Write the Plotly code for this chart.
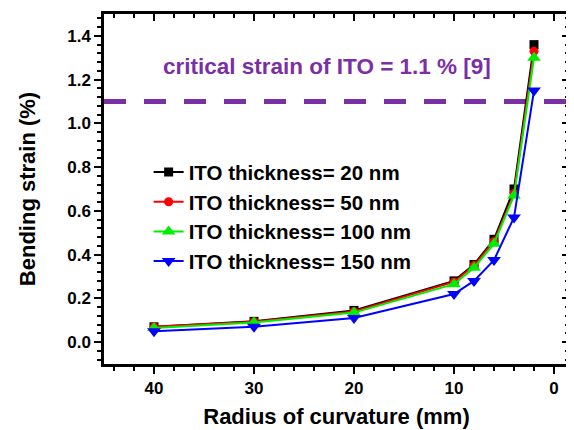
import plotly.graph_objects as go

radius_mm = [40, 30, 20, 10, 8, 6, 4, 2]
strain_20nm = [0.07, 0.095, 0.145, 0.28, 0.355, 0.47, 0.70, 1.36]
strain_50nm = [0.07, 0.093, 0.14, 0.275, 0.35, 0.46, 0.68, 1.33]
strain_100nm = [0.065, 0.09, 0.135, 0.265, 0.34, 0.45, 0.67, 1.30]
strain_150nm = [0.05, 0.07, 0.11, 0.22, 0.28, 0.375, 0.57, 1.15]
series_names = ["ITO thickness= 20 nm", "ITO thickness= 50 nm",
                "ITO thickness= 100 nm", "ITO thickness= 150 nm"]
critical_strain = 1.1
critical_label = "critical strain of ITO = 1.1 % [9]"

FONT = "Liberation Sans, Arial, sans-serif"
PURPLE = "#7B2FA6"

styles = [
    dict(color="#000000", symbol="square", size=9),
    dict(color="#FF0000", symbol="circle", size=9),
    dict(color="#00EE00", symbol="triangle-up", size=12),
    dict(color="#0000FF", symbol="triangle-down", size=12),
]
values = [strain_20nm, strain_50nm, strain_100nm, strain_150nm]

fig = go.Figure()
for name, vals, st in zip(series_names, values, styles):
    fig.add_trace(go.Scatter(
        x=radius_mm, y=vals, mode="lines+markers", name=name,
        line=dict(color=st["color"], width=2),
        marker=dict(color=st["color"], symbol=st["symbol"], size=st["size"]),
    ))

# invisible traces so the top / right frame axes (inward ticks) are drawn
fig.add_trace(go.Scatter(x=radius_mm[:1], y=strain_20nm[:1], xaxis="x2", yaxis="y",
                         mode="markers", marker=dict(opacity=0), showlegend=False,
                         hoverinfo="skip"))
fig.add_trace(go.Scatter(x=radius_mm[:1], y=strain_20nm[:1], xaxis="x", yaxis="y2",
                         mode="markers", marker=dict(opacity=0), showlegend=False,
                         hoverinfo="skip"))

fig.add_shape(type="line", xref="paper", yref="y", x0=0, x1=1,
              y0=critical_strain, y1=critical_strain,
              line=dict(color=PURPLE, width=5, dash="22px,18px"), layer="below")

fig.add_annotation(text=critical_label, xref="paper", yref="y",
                   x=0.479, y=1.26, showarrow=False,
                   font=dict(family=FONT, size=22.5, color=PURPLE, weight="bold"))

xr = [45, -1.5]
yr = [-0.1, 1.5]
axis_common = dict(showline=True, linecolor="black", linewidth=2.5,
                   showgrid=False, zeroline=False, ticklen=7, tickwidth=2,
                   tickcolor="black")

fig.update_layout(
    width=566, height=422,
    margin=dict(l=96, r=2, t=6, b=66),
    paper_bgcolor="white", plot_bgcolor="white",
    font=dict(family=FONT, color="black"),
    showlegend=True,
    legend=dict(x=0.096, y=0.605, xanchor="left", yanchor="top",
                bgcolor="rgba(0,0,0,0)", tracegroupgap=0,
                font=dict(family=FONT, size=20.5, color="black", weight="bold")),
    xaxis=dict(range=xr, dtick=10, tick0=0, ticks="outside", mirror=True,
               tickfont=dict(family=FONT, size=17, weight="bold"),
               minor=dict(dtick=2, ticklen=4, tickwidth=2, ticks="outside", tickcolor="black"),
               title=dict(text="Radius of curvature (mm)", standoff=12,
                          font=dict(family=FONT, size=22, weight="bold")),
               automargin=True, **axis_common),
    yaxis=dict(range=yr, dtick=0.2, tick0=0, ticks="outside", tickformat=".1f", mirror=True,
               tickfont=dict(family=FONT, size=17, weight="bold"),
               minor=dict(dtick=0.04, ticklen=4, tickwidth=2, ticks="outside", tickcolor="black"),
               title=dict(text="Bending strain (%)", standoff=26,
                          font=dict(family=FONT, size=22, weight="bold")),
               automargin=True, **axis_common),
    xaxis2=dict(range=xr, overlaying="x", side="top", anchor="y", dtick=10, tick0=0,
                ticks="inside", showticklabels=False, automargin=False,
                minor=dict(dtick=2, ticklen=4, tickwidth=2, ticks="inside", tickcolor="black"),
                **axis_common),
    yaxis2=dict(range=yr, overlaying="y", side="right", anchor="x", dtick=0.2, tick0=0,
                ticks="inside", showticklabels=False, automargin=False,
                minor=dict(dtick=0.04, ticklen=4, tickwidth=2, ticks="inside", tickcolor="black"),
                **axis_common),
)

fig.write_html("out.html")
